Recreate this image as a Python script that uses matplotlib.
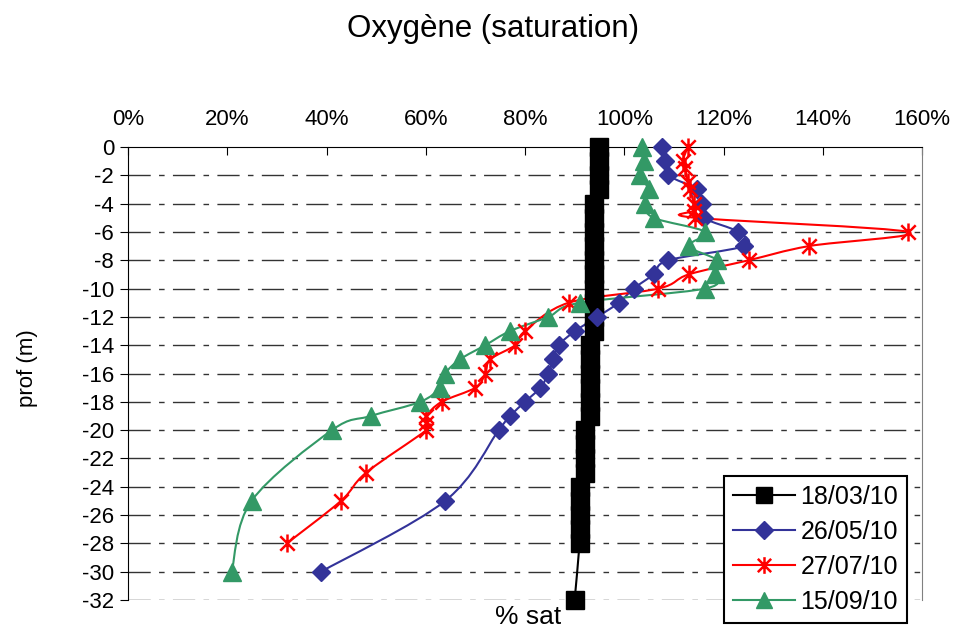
import matplotlib
matplotlib.use("Agg")
import matplotlib.pyplot as plt
import numpy as np
from matplotlib.path import Path
from matplotlib.patches import PathPatch
from matplotlib.lines import Line2D

plt.rcParams['font.family'] = ['Liberation Sans', 'DejaVu Sans']
plt.rcParams['lines.scale_dashes'] = False

# 18/03/10 (profil tous les metres)
d_mar = [0, -1, -2, -3, -4, -5, -6, -7, -8, -9, -10, -11, -12, -13,
         -14, -15, -16, -17, -18, -19, -20, -21, -22, -23,
         -24, -25, -26, -27, -28, -32]
o_mar = [95, 95, 95, 95, 94, 94, 94, 94, 94, 94, 94, 94, 94, 94,
         93, 93, 93, 93, 93, 93, 92, 92, 92, 92,
         91, 91, 91, 91, 91, 90]

# 26/05/10
d_may = [0, -1, -2, -3, -4, -5, -6, -7, -8, -9, -10, -11, -12, -13,
         -14, -15, -16, -17, -18, -19, -20, -25, -30]
o_may = [107.6, 108.3, 108.9, 114.7, 115.7, 116.0, 123.0, 124.1, 108.9, 105.9, 101.9, 98.9, 94.6, 90.1,
         86.8, 85.7, 84.7, 83.1, 80.0, 77.0, 74.7, 63.9, 38.9]

# 27/07/10
d_jul = [0, -1, -1.5, -2.5, -3, -4, -4.5, -5, -6, -7, -8, -9, -10, -11,
         -13, -14, -15, -16, -17, -18, -19, -19.5, -20, -23, -25, -28]
o_jul = [112.8, 111.8, 112.3, 112.8, 113.3, 114.0, 114.0, 114.3, 157.2, 137.2, 125.1, 113.0, 106.9, 88.8,
         80.0, 78.0, 73.0, 72.0, 70.0, 63.2, 60.1, 60.1, 60.1, 48.0, 42.9, 32.0]

# 15/09/10
d_sep = [0, -1, -2, -3, -4, -5, -6, -7, -8, -9, -10, -11, -12, -13,
         -14, -15, -16, -17, -18, -19, -20, -25, -30]
o_sep = [103.6, 103.9, 103.2, 104.9, 104.2, 105.9, 116.3, 113.0, 118.7, 118.3, 116.3, 91.1, 84.7, 77.0,
         72.0, 66.9, 63.9, 62.8, 58.9, 48.9, 41.1, 24.9, 20.9]

labels = ['18/03/10', '26/05/10', '27/07/10', '15/09/10']
x_ticks = [0, 20, 40, 60, 80, 100, 120, 140, 160]
y_ticks = list(range(0, -33, -2))

# asterisk marker like Excel
star = Path([(0, -1), (0, 1), (-0.8, -0.8), (0.8, 0.8), (-0.8, 0.8), (0.8, -0.8)],
            [Path.MOVETO, Path.LINETO, Path.MOVETO, Path.LINETO, Path.MOVETO, Path.LINETO])


def smooth_path(x, y):
    # Excel-like smoothed line: cubic bezier, control points from neighbours
    p = np.column_stack([x, y]).astype(float)
    n = len(p)
    verts = [p[0]]
    codes = [Path.MOVETO]
    for i in range(n - 1):
        p0 = p[i - 1] if i > 0 else p[i]
        p1 = p[i]
        p2 = p[i + 1]
        p3 = p[i + 2] if i + 2 < n else p[i + 1]
        c1 = p1 + (p2 - p0) / 6
        c2 = p2 - (p3 - p1) / 6
        verts += [c1, c2, p2]
        codes += [Path.CURVE4] * 3
    return Path(verts, codes)


fig = plt.figure(figsize=(9.57, 6.28), dpi=100)
ax = fig.add_axes([128 / 957, 28 / 628, 794 / 957, 453 / 628])

series = [
    (o_mar, d_mar, 'black', 's', 13, 1.5),
    (o_may, d_may, '#333399', 'D', 9.5, 1.5),
    (o_jul, d_jul, '#ff0000', star, 13, 1.5),
    (o_sep, d_sep, '#339966', '^', 13, 1.5),
]
handles = []
for (xs, ys, col, mk, ms, lw), lab in zip(series, labels):
    ax.add_patch(PathPatch(smooth_path(xs, ys), fill=False, edgecolor=col, lw=lw, zorder=3))
    if mk is star:
        ax.plot(xs, ys, ls='none', marker=mk, ms=ms, mec=col, mew=1.8, zorder=4, clip_on=False)
    else:
        ax.plot(xs, ys, ls='none', marker=mk, ms=ms, mfc=col, mec=col, zorder=4, clip_on=False)
    h = Line2D([], [], color=col, lw=lw, marker=mk, ms=min(ms, 12), mfc=col, mec=col,
               mew=1.8 if mk is star else 1)
    handles.append(h)

ax.set_xlim(0, 160)
ax.set_ylim(-32, 0)
ax.xaxis.tick_top()
ax.set_xticks(x_ticks)
ax.set_xticklabels([f'{v}%' for v in x_ticks], fontsize=16)
ax.set_yticks(y_ticks)
ax.set_yticklabels([str(v) for v in y_ticks], fontsize=16)
ax.tick_params(axis='x', direction='in', length=6, pad=12)
ax.tick_params(axis='y', direction='out', length=6, pad=4)

for v in y_ticks[1:]:
    ax.axhline(v, color='#333333', lw=1, ls=(0, (16, 6, 4, 6)), zorder=1)

ax.spines['bottom'].set_visible(False)
ax.spines['right'].set_color('#808080')
ax.spines['left'].set_color('black')
ax.spines['top'].set_color('black')

fig.text(493 / 957, 1 - 29 / 628, 'Oxygène (saturation)', ha='center', va='center', fontsize=22.5)
fig.text(28 / 957, 1 - 368 / 628, 'prof (m)', ha='center', va='center', rotation=90, fontsize=16)
fig.text(528 / 957, 1 - 617 / 628, '% sat', ha='center', va='center', fontsize=19)

leg = fig.legend(handles, labels, loc='upper left', bbox_to_anchor=(724 / 957, 1 - 476 / 628),
                 fontsize=18, frameon=True, fancybox=False, handlelength=2.5,
                 labelspacing=0.44, borderpad=0.35, handletextpad=0.2, borderaxespad=0)
leg.get_frame().set_edgecolor('black')
leg.get_frame().set_linewidth(1.5)
leg.get_frame().set_alpha(1)

fig.savefig('out.png', dpi=100)
